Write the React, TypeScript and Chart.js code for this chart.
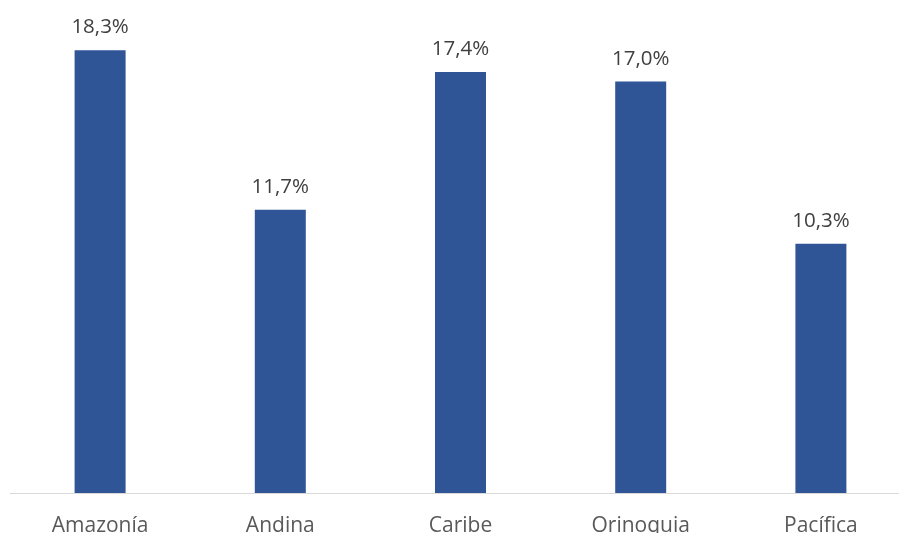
import React, { useEffect, useRef } from "react";
import { Chart, registerables } from "chart.js";

Chart.register(...registerables);

const categories = ["Amazonía", "Andina", "Caribe", "Orinoquia", "Pacífica"];
const values = [18.3, 11.7, 17.4, 17.0, 10.3];
const valueLabels = ["18,3%", "11,7%", "17,4%", "17,0%", "10,3%"];

const FONT = "'Open Sans', Lato, sans-serif";

const labelPlugin = {
  id: "valueLabels",
  afterDatasetsDraw(chart: any) {
    const ctx = chart.ctx;
    const meta = chart.getDatasetMeta(0);
    ctx.save();
    ctx.font = `20.5px ${FONT}`;
    ctx.fillStyle = "#404040";
    ctx.textAlign = "center";
    ctx.textBaseline = "alphabetic";
    meta.data.forEach((el: any, i: number) => {
      ctx.fillText(valueLabels[i], el.x, el.y - 17);
    });
    ctx.restore();
  },
};

export default function App() {
  const ref = useRef<HTMLCanvasElement>(null);
  useEffect(() => {
    document.body.style.margin = "0";
    document.body.style.overflow = "hidden";
    const canvas = ref.current!;
    const chart = new Chart(canvas, {
      type: "bar",
      data: {
        labels: categories,
        datasets: [
          {
            data: values,
            backgroundColor: "#2F5597",
            categoryPercentage: 1,
            barPercentage: 0.283,
          },
        ],
      },
      options: {
        responsive: false,
        animation: false,
        layout: { padding: { left: 10, right: 0, top: 9, bottom: 0 } },
        plugins: { legend: { display: false }, tooltip: { enabled: false } },
        scales: {
          x: {
            grid: { display: false, drawTicks: false },
            border: { display: true, color: "#d9d9d9", width: 1 },
            ticks: {
              color: "#595959",
              font: { family: FONT, size: 21 },
              padding: 20,
              maxRotation: 0,
              autoSkip: false,
            },
            afterFit(scale: any) {
              scale.height = 40;
            },
          },
          y: {
            display: false,
            min: 0,
            max: 20,
          },
        },
      },
      plugins: [labelPlugin],
    });
    return () => chart.destroy();
  }, []);
  return (
    <div style={{ width: 899, height: 533, overflow: "hidden", background: "#fff" }}>
      <canvas ref={ref} width={911} height={533} style={{ display: "block" }} />
    </div>
  );
}
